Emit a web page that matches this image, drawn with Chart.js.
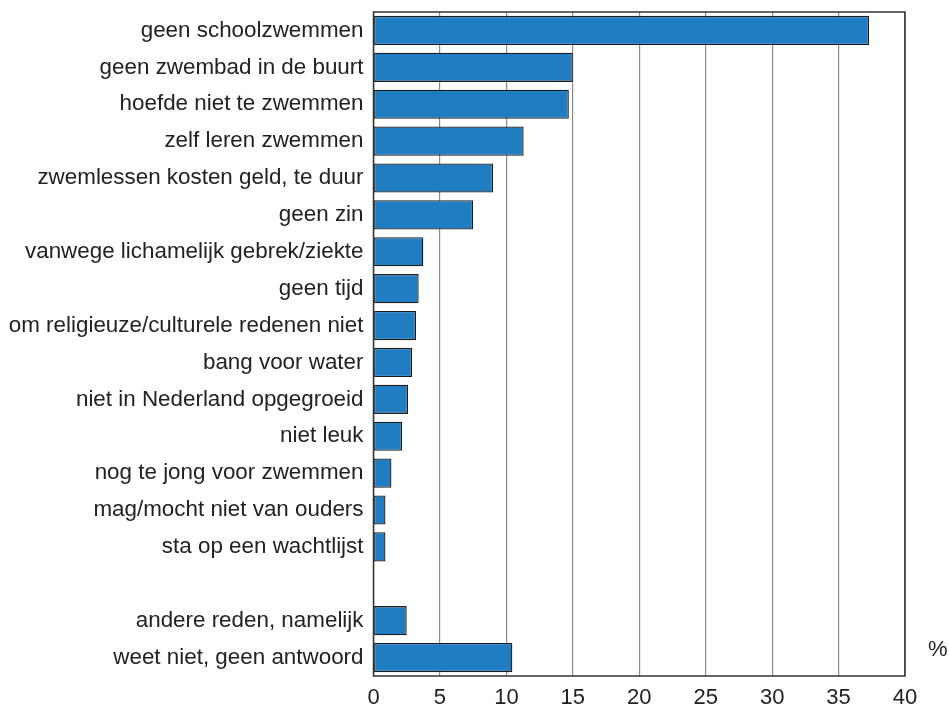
<!DOCTYPE html>
<html>
<head>
<meta charset="utf-8">
<script src="https://cdn.jsdelivr.net/npm/chart.js@4/dist/chart.umd.min.js"></script>
<style>
  html, body { margin: 0; padding: 0; background: #fff; }
  #wrap { width: 949px; height: 717px; position: relative; }
</style>
</head>
<body>
<div id="wrap"><canvas id="chart"></canvas></div>
<script>
// redenen om niet te (leren) zwemmen, in %
const categories = [
  'geen schoolzwemmen',
  'geen zwembad in de buurt',
  'hoefde niet te zwemmen',
  'zelf leren zwemmen',
  'zwemlessen kosten geld, te duur',
  'geen zin',
  'vanwege lichamelijk gebrek/ziekte',
  'geen tijd',
  'om religieuze/culturele redenen niet',
  'bang voor water',
  'niet in Nederland opgegroeid',
  'niet leuk',
  'nog te jong voor zwemmen',
  'mag/mocht niet van ouders',
  'sta op een wachtlijst',
  '',
  'andere reden, namelijk',
  'weet niet, geen antwoord'
]
const percentages = [37.3, 15.0, 14.7, 11.3, 9.0, 7.5, 3.75, 3.4, 3.2, 2.9, 2.6, 2.15, 1.35, 0.9, 0.9, null, 2.5, 10.45]
const xTicks = [0, 5, 10, 15, 20, 25, 30, 35, 40]
const unitLabel = '%'

const FONT = "'Liberation Sans', Arial, Helvetica, sans-serif"

// frame round the plot area + the % label at the right
const framePlugin = {
  id: 'frame',
  afterDraw(chart) {
    const { ctx, chartArea: a } = chart
    ctx.save()
    ctx.strokeStyle = '#333'
    ctx.lineWidth = 1.5
    ctx.strokeRect(a.left, a.top, a.right - a.left, a.bottom - a.top)
    ctx.fillStyle = '#222'
    ctx.font = '22px ' + FONT
    ctx.textAlign = 'left'
    ctx.textBaseline = 'middle'
    ctx.fillText(unitLabel, a.right + 23, chart.scales.y.getPixelForValue(categories.length - 1) - 8)
    ctx.restore()
  }
}

new Chart(document.getElementById('chart'), {
  type: 'bar',
  data: {
    labels: categories,
    datasets: [{
      data: percentages,
      backgroundColor: '#217dc2',
      borderColor: '#1c1c1c',
      borderWidth: 1.3,
      borderSkipped: false,
      barPercentage: 0.79,
      categoryPercentage: 1
    }]
  },
  options: {
    indexAxis: 'y',
    responsive: true,
    maintainAspectRatio: false,
    animation: false,
    layout: { padding: { top: 12, right: 44, bottom: 0, left: 0 } },
    plugins: {
      legend: { display: false },
      tooltip: { enabled: false }
    },
    scales: {
      x: {
        min: 0,
        max: 40,
        afterBuildTicks(scale) { scale.ticks = xTicks.map(v => ({ value: v })) },
        afterFit(scale) {
          scale.height = 41
          scale.paddingLeft = 0
          scale.paddingRight = 0
        },
        grid: { color: '#8a8a8a', lineWidth: 1.2, drawTicks: false },
        border: { display: false },
        ticks: { color: '#222', padding: 9, font: { size: 22, family: FONT } }
      },
      y: {
        afterFit(scale) {
          scale.width = 373.5
          scale.paddingTop = 0
          scale.paddingBottom = 0
        },
        grid: { display: false, drawTicks: false },
        border: { display: false },
        ticks: { color: '#222', padding: 10, autoSkip: false, font: { size: 22.4, family: FONT } }
      }
    }
  },
  plugins: [framePlugin]
})
</script>
</body>
</html>
